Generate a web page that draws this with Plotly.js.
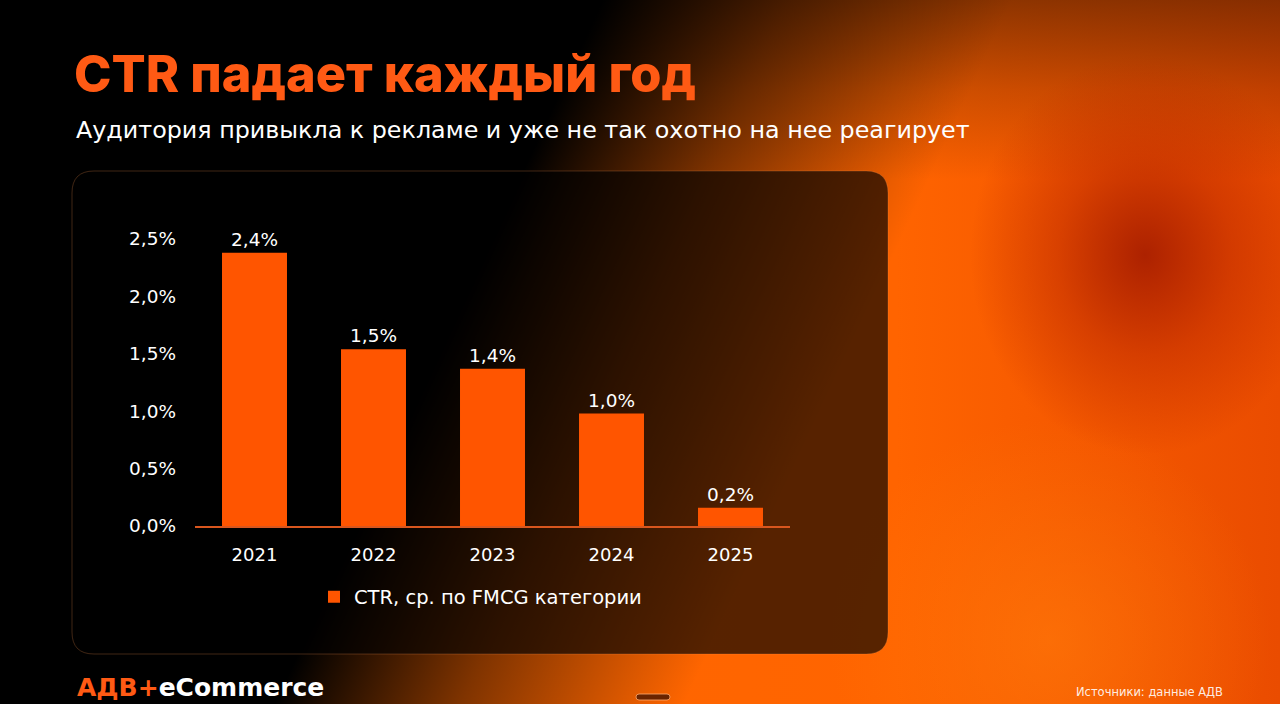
<!DOCTYPE html>
<html>
<head>
<meta charset="utf-8">
<script src="https://cdn.plot.ly/plotly-3.0.1.min.js"></script>
<style>
html, body { margin:0; padding:0; width:1280px; height:704px; overflow:hidden; }
body {
  background:
    linear-gradient(115deg, #000 0%, #000 37.5%, rgba(0,0,0,0.5) 49%, rgba(0,0,0,0) 63%),
    radial-gradient(ellipse 175px 200px at 1145px 255px, rgba(165,28,0,0.9) 0%, rgba(180,34,0,0.45) 50%, rgba(190,40,0,0) 100%),
    radial-gradient(circle 220px at 1050px 640px, rgba(255,122,10,0.6) 0%, rgba(255,122,10,0) 100%),
    linear-gradient(to bottom, rgba(70,25,0,0.6) 0px, rgba(70,25,0,0.25) 90px, rgba(70,25,0,0) 180px),
    linear-gradient(to right, #ff6a00 0%, #ff6400 70%, #ea4c00 100%);
}
#chart { width:1280px; height:704px; }
</style>
</head>
<body>
<div id="chart"></div>
<script>
// ---- data ----
const years = ['2021', '2022', '2023', '2024', '2025'];
const ctrValues = [2.38, 1.54, 1.37, 0.98, 0.16];
const seriesName = 'CTR, ср. по FMCG категории';
const titleText = 'CTR падает каждый год';
const subtitleText = 'Аудитория привыкла к рекламе и уже не так охотно на нее реагирует';
const logoAccent = 'АДВ+';
const logoRest = 'eCommerce';
const sourceText = 'Источники: данные АДВ';

// ---- geometry helpers (figure pixels -> paper fractions) ----
const W = 1280, H = 704;
const M = {l:195, r:490, t:239, b:178};
const PW = W - M.l - M.r, PH = H - M.t - M.b;
const px = x => (x - M.l) / PW;
const py = y => (H - M.b - y) / PH;

function roundRect(x0, y0, x1, y1, r) {
  const p = (x, y) => px(x) + ',' + py(y);
  return 'M' + p(x0 + r, y0) + ' L' + p(x1 - r, y0) + ' Q' + p(x1, y0) + ' ' + p(x1, y0 + r) +
         ' L' + p(x1, y1 - r) + ' Q' + p(x1, y1) + ' ' + p(x1 - r, y1) +
         ' L' + p(x0 + r, y1) + ' Q' + p(x0, y1) + ' ' + p(x0, y1 - r) +
         ' L' + p(x0, y0 + r) + ' Q' + p(x0, y0) + ' ' + p(x0 + r, y0) + ' Z';
}

const FONT = '"DejaVu Sans", sans-serif';
const TITLE_FONT = 'Inter, "DejaVu Sans", sans-serif';
const ORANGE = '#ff5500';
const TITLE_ORANGE = '#ff5a14';

const trace = {
  type: 'bar',
  x: years,
  y: ctrValues,
  name: seriesName,
  marker: {color: ORANGE},
  texttemplate: '%{y:.1f}%',
  textposition: 'outside',
  textfont: {color: '#ffffff', size: 18.5, family: FONT},
  cliponaxis: false,
  showlegend: true,
  hoverinfo: 'skip'
};

const layout = {
  width: W, height: H,
  margin: M,
  paper_bgcolor: 'rgba(0,0,0,0)',
  plot_bgcolor: 'rgba(0,0,0,0)',
  separators: ', ',
  font: {family: FONT, color: '#ffffff'},
  bargap: 0.454,
  showlegend: true,
  title: {
    text: titleText,
    font: {family: TITLE_FONT, size: 50.5, color: TITLE_ORANGE, weight: 800},
    xref: 'container', yref: 'container',
    x: 74 / W, xanchor: 'left',
    y: 1 - 74 / H, yanchor: 'middle'
  },
  xaxis: {
    type: 'category',
    showline: true, linecolor: '#d8561e', linewidth: 1.5,
    showgrid: false, zeroline: false, ticks: '',
    tickfont: {color: '#ffffff', size: 18, family: FONT},
    ticklabelstandoff: 12
  },
  yaxis: {
    range: [0, 2.5], dtick: 0.5, tick0: 0,
    tickformat: '.1f', ticksuffix: '%',
    showgrid: false, zeroline: false, showline: false, ticks: '',
    tickfont: {color: '#ffffff', size: 18.5, family: FONT},
    ticklabelstandoff: 18
  },
  legend: {
    orientation: 'h',
    x: px(314), xanchor: 'left',
    y: py(597), yanchor: 'middle',
    font: {color: '#ffffff', size: 19.5, family: FONT},
    bgcolor: 'rgba(0,0,0,0)',
    itemclick: false
  },
  shapes: [
    {
      type: 'path', xref: 'paper', yref: 'paper', layer: 'below',
      path: roundRect(72, 171, 888, 654, 22),
      fillcolor: 'rgba(0,0,0,0.66)',
      line: {color: 'rgba(255,150,80,0.25)', width: 1}
    },
    {
      type: 'path', xref: 'paper', yref: 'paper', layer: 'above',
      path: roundRect(636, 694, 670, 700, 3),
      fillcolor: '#6a2400',
      line: {color: 'rgba(255,170,110,0.8)', width: 1}
    }
  ],
  annotations: [
    {
      text: subtitleText, xref: 'paper', yref: 'paper',
      x: px(74), xanchor: 'left', y: py(130), yanchor: 'middle',
      showarrow: false, font: {family: FONT, size: 23.8, color: '#ffffff'}
    },
    {
      text: '<span style="color:' + TITLE_ORANGE + '">' + logoAccent + '</span>' + logoRest,
      xref: 'paper', yref: 'paper',
      x: px(75), xanchor: 'left', y: py(687), yanchor: 'middle',
      showarrow: false, font: {family: FONT, size: 25, color: '#ffffff', weight: 700}
    },
    {
      text: sourceText, xref: 'paper', yref: 'paper',
      x: px(1225), xanchor: 'right', y: py(692), yanchor: 'middle',
      showarrow: false, font: {family: FONT, size: 11.5, color: 'rgba(255,255,255,0.9)'}
    }
  ]
};

Plotly.newPlot('chart', [trace], layout, {staticPlot: true, displayModeBar: false});
</script>
</body>
</html>
